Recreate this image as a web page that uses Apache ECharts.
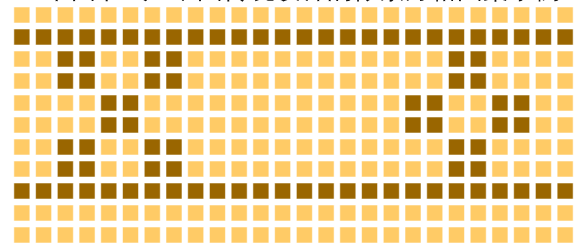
<!DOCTYPE html>
<html>
<head>
<meta charset="utf-8">
<script src="https://cdn.jsdelivr.net/npm/echarts@6/dist/echarts.min.js"></script>
<style>
  html, body { margin: 0; padding: 0; background: #fff; }
  #chart { width: 579px; height: 246px; }
</style>
</head>
<body>
<div id="chart"></div>
<script>
// pixel pattern, one string per row: 1 = dark cell, 0 = light cell
var patternRows = [
  '00000000000000000000000000',
  '11111111111111111111111111',
  '00110011000000000000110000',
  '00110011000000000000110000',
  '00001100000000000011001100',
  '00001100000000000011001100',
  '00110011000000000000110000',
  '00110011000000000000110000',
  '11111111111111111111111111',
  '00000000000000000000000000',
  '00000000000000000000000000'
];
var titleText = '二十四节气 · 中国传统纹样的像素方格图案示例';
var lightColor = '#ffcb66';
var darkColor = '#9a6600';

var cells = [];
patternRows.forEach(function (row, y) {
  for (var x = 0; x < row.length; x++) {
    cells.push([x, y, +row[x]]);
  }
});

var chart = echarts.init(document.getElementById('chart'));
chart.setOption({
  animation: false,
  title: {
    text: titleText,
    left: 'center',
    top: -22,
    padding: 0,
    textStyle: { fontSize: 26, fontWeight: 'normal', color: '#111' }
  },
  grid: { left: 11, right: 3, top: 4, bottom: -2 },
  xAxis: {
    type: 'value', min: -0.5, max: 25.5,
    show: false
  },
  yAxis: {
    type: 'value', min: -0.5, max: 10.5, inverse: true,
    show: false
  },
  series: [{
    type: 'scatter',
    symbol: 'rect',
    symbolSize: 16,
    data: cells,
    itemStyle: {
      opacity: 1,
      borderColor: 'rgba(255,255,255,0.55)',
      borderWidth: 1,
      color: function (p) { return p.value[2] ? darkColor : lightColor; }
    }
  }]
});
</script>
</body>
</html>
